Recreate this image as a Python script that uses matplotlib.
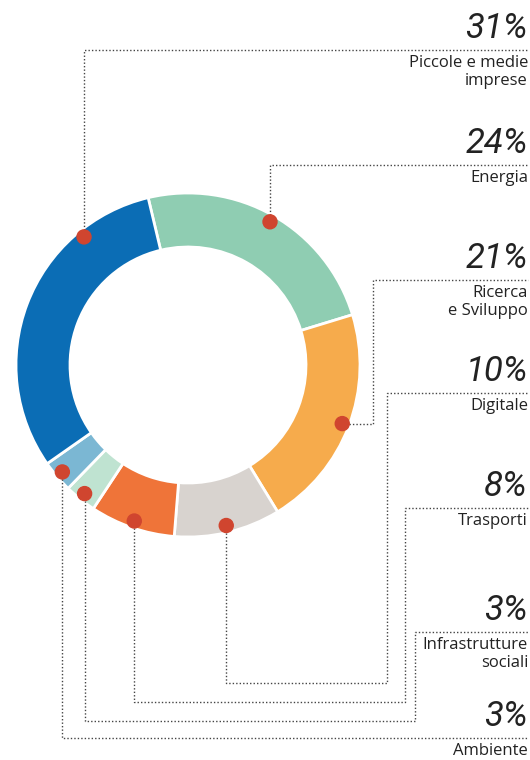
import numpy as np
import matplotlib.pyplot as plt

# Dati
categorie = ["Energia", "Ricerca\ne Sviluppo", "Digitale", "Trasporti",
             "Infrastrutture\nsociali", "Ambiente", "Piccole e medie\nimprese"]
valori = [24, 21, 10, 8, 3, 3, 31]
etichette_pct = ["24%", "21%", "10%", "8%", "3%", "3%", "31%"]
colori = ["#8fcdb2", "#f6ab4c", "#d8d3cf", "#ef7439", "#bfe3d1", "#7bb7d3", "#0b6db5"]

W, H = 530, 760
fig = plt.figure(figsize=(W / 100, H / 100), dpi=100)
ax = fig.add_axes([0, 0, 1, 1])

cx, cy = 188, H - 365   # centro della ciambella (pixel, y verso l'alto)
r_out, r_in = 172, 118
start = 103.4

ax.pie(valori, colors=colori, startangle=start, counterclock=False,
       radius=r_out, center=(cx, cy),
       wedgeprops=dict(width=r_out - r_in, edgecolor="white", linewidth=2))
ax.set_xlim(0, W)
ax.set_ylim(0, H)
ax.set_aspect("auto")
ax.axis("off")

# posizione dei punti rossi lungo lo spicchio (frazione)
frazione = [0.5, 0.5, 0.5, 0.5, 0.5, 0.5, 0.77]
# y (dall'alto) della linea sotto la percentuale, x della svolta verticale
linea_y = [165, 280, 393, 508, 632, 738, 50]
svolta_x = [None, 373, 387, 405, 415, None, None]
fondo_y = [None, None, 683, 702, 721, 738, None]

x_dx = 528
lstyle = dict(color="#444444", lw=1.0, ls=(0, (1, 1.5)))

acc = 0
for i, v in enumerate(valori):
    ang = np.radians(start - 3.6 * (acc + v * frazione[i]))
    acc += v
    px = cx + 165 * np.cos(ang)
    py = cy + 165 * np.sin(ang)
    ly = H - linea_y[i]
    if svolta_x[i] is None and fondo_y[i] is None:
        xs, ys = [px, px, x_dx], [py, ly, ly]
    elif fondo_y[i] is None:
        xs, ys = [px, svolta_x[i], svolta_x[i], x_dx], [py, py, ly, ly]
    else:
        fy = H - fondo_y[i]
        if svolta_x[i] is None:
            xs, ys = [px, px, x_dx], [py, fy, fy]
        else:
            xs, ys = [px, px, svolta_x[i], svolta_x[i], x_dx], [py, fy, fy, ly, ly]
    ax.plot(xs, ys, **lstyle, zorder=3)
    ax.add_patch(plt.Circle((px, py), 7, color="#d0452f", zorder=4))

    ax.text(x_dx, ly + 5, etichette_pct[i], ha="right", va="bottom",
            fontsize=25, style="italic", weight="normal", family="Roboto",
            color="#222222")
    ax.text(x_dx, ly - 5, categorie[i], ha="right", va="top",
            fontsize=12, family="Open Sans", color="#222222",
            linespacing=1.15, multialignment="right")

fig.savefig("out.png", dpi=100, facecolor="white")
